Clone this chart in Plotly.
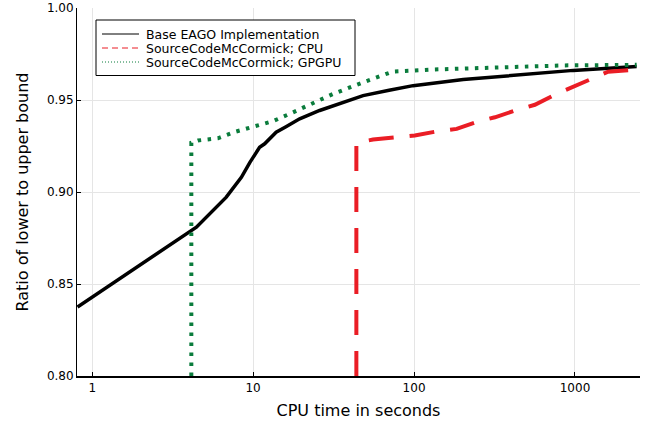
import plotly.graph_objects as go

# Base EAGO Implementation (black)
base_x = [0.81, 4.22, 4.44, 6.81, 8.45, 9.53, 10.97, 11.79, 13.9, 16.0, 19.46, 25.9, 29.9, 34.5, 48.2, 70, 98.6, 202, 296, 500, 975, 2416]
base_y = [0.8375, 0.8791, 0.8809, 0.8972, 0.9080, 0.9160, 0.9243, 0.9262, 0.9325, 0.9355, 0.9398, 0.9443, 0.9461, 0.9479, 0.9524, 0.9553, 0.9578, 0.9611, 0.9622, 0.9640, 0.9661, 0.9682]

# SourceCodeMcCormick; CPU (red dashed)
cpu_x = [43.8, 43.8, 55.6, 77.7, 101, 138, 184, 250, 318, 443, 563, 769, 951, 1298, 1607, 2301]
cpu_y = [0.80, 0.9268, 0.9285, 0.9296, 0.9307, 0.9329, 0.9343, 0.9383, 0.9406, 0.9448, 0.9474, 0.9533, 0.9569, 0.9618, 0.9654, 0.9664]

# SourceCodeMcCormick; GPGPU (green dotted)
gpu_x = [4.13, 4.13, 4.54, 6.04, 7.86, 10.2, 13.28, 16.9, 21.9, 27.9, 31.4, 48.2, 74, 125, 282, 845, 2416]
gpu_y = [0.80, 0.9268, 0.9280, 0.9292, 0.9329, 0.9356, 0.9385, 0.9425, 0.9470, 0.9510, 0.9533, 0.9596, 0.9655, 0.9665, 0.9675, 0.9688, 0.9691]

x_ticks = [1, 10, 100, 1000]
x_tick_labels = ["1", "10", "100", "1000"]
y_ticks = [0.80, 0.85, 0.90, 0.95, 1.00]
y_tick_labels = ["0.80", "0.85", "0.90", "0.95", "1.00"]

names = ["Base EAGO Implementation", "SourceCodeMcCormick; CPU", "SourceCodeMcCormick; GPGPU"]
BLACK = "#000000"
RED = "#ea1d25"
GREEN = "#0a7c3c"
colors = [BLACK, RED, GREEN]
legend_dashes = ["solid", "6px,4px", "1px,2px"]

FONT = "DejaVu Sans"
W, H = 650, 426
ML, MR, MT, MB = 77, 10, 8, 50
PW, PH = W - ML - MR, H - MT - MB


def px_x(p):
    return (p - ML) / PW


def px_y(p):
    return (H - MB - p) / PH


fig = go.Figure()
fig.add_trace(go.Scatter(x=base_x, y=base_y, mode="lines", name=names[0], showlegend=False,
                         line=dict(color=BLACK, width=3.5)))
fig.add_trace(go.Scatter(x=cpu_x, y=cpu_y, mode="lines", name=names[1], showlegend=False,
                         line=dict(color=RED, width=4, dash="25px,16px")))
fig.add_trace(go.Scatter(x=gpu_x, y=gpu_y, mode="lines", name=names[2], showlegend=False,
                         line=dict(color=GREEN, width=4, dash="3.5px,6.5px")))

# manual legend (box, sample lines, labels)
shapes = [dict(type="rect", xref="paper", yref="paper",
               x0=px_x(96), x1=px_x(355), y0=px_y(75.5), y1=px_y(20),
               line=dict(color="black", width=1), fillcolor="white", layer="above")]
annotations = []
row_y = [34, 48, 62]
for name, col, dsh, ry in zip(names, colors, legend_dashes, row_y):
    shapes.append(dict(type="line", xref="paper", yref="paper",
                       x0=px_x(102), x1=px_x(139), y0=px_y(ry), y1=px_y(ry),
                       line=dict(color=col, width=1, dash=dsh), layer="above"))
    annotations.append(dict(text=name, xref="paper", yref="paper",
                            x=px_x(145), y=px_y(ry), xanchor="left", yanchor="middle",
                            height=14, borderpad=0, valign="middle",
                            showarrow=False, font=dict(family=FONT, size=12.5, color="black")))

fig.update_layout(
    width=W, height=H,
    margin=dict(l=ML, r=MR, t=MT, b=MB),
    plot_bgcolor="white", paper_bgcolor="white",
    font=dict(family=FONT, color="black", size=12),
    showlegend=False,
    shapes=shapes, annotations=annotations,
    xaxis=dict(type="log", range=[-0.0945, 3.404], automargin=False,
               tickvals=x_ticks, ticktext=x_tick_labels,
               ticks="inside", ticklen=4, tickcolor="black", tickwidth=1,
               showgrid=True, gridcolor="#e5e5e5", gridwidth=1,
               showline=True, linecolor="black", linewidth=2, mirror=False,
               zeroline=False,
               tickfont=dict(family=FONT, size=12),
               title=dict(text="CPU time in seconds", font=dict(family=FONT, size=16), standoff=10)),
    yaxis=dict(range=[0.80, 1.00], automargin=False,
               tickvals=y_ticks, ticktext=y_tick_labels,
               ticks="inside", ticklen=4, tickcolor="black", tickwidth=1,
               showgrid=True, gridcolor="#e5e5e5", gridwidth=1,
               showline=True, linecolor="black", linewidth=1, mirror=False,
               zeroline=False,
               tickfont=dict(family=FONT, size=12),
               title=dict(text="Ratio of lower to upper bound", font=dict(family=FONT, size=16), standoff=14)),
)
fig.write_html("out.html", config={"displayModeBar": False},
               post_script="document.body.style.margin='0';document.body.style.padding='0';")
